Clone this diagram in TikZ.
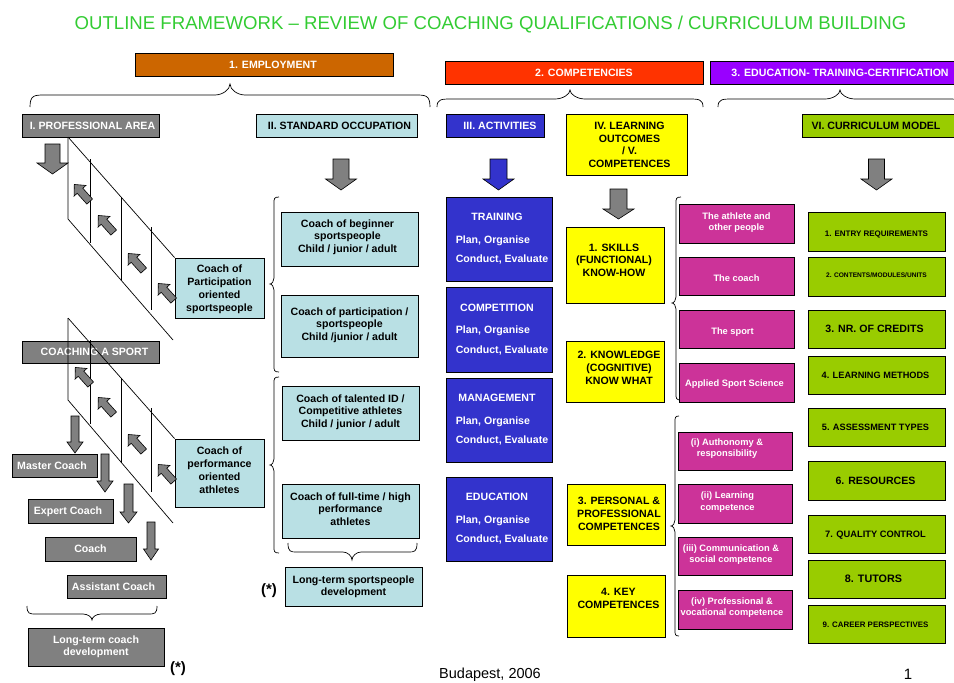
\documentclass[tikz,border=0pt]{standalone}
\usepackage{fontspec}
\setmainfont{Liberation Sans}
\usetikzlibrary{calc}
\definecolor{tgreen}{RGB}{51,204,51}
\definecolor{emp}{RGB}{204,102,0}
\definecolor{comp}{RGB}{255,51,0}
\definecolor{edu}{RGB}{153,0,255}
\definecolor{gbox}{RGB}{128,128,128}
\definecolor{lblue}{RGB}{185,224,228}
\definecolor{actblue}{RGB}{51,51,204}
\definecolor{yel}{RGB}{255,255,0}
\definecolor{mag}{RGB}{204,51,153}
\definecolor{lgreen}{RGB}{153,204,0}
% box: [style]{name}{x1}{y1}{x2}{y2}{dx}{dy}{text}
\newcommand\bx[9][]{%
  \pgfmathsetmacro\bxcx{(#3+#5)/2}%
  \pgfmathsetmacro\bxcy{(#4+#6)/2}%
  \pgfmathsetmacro\bxw{#5-#3}%
  \pgfmathsetmacro\bxh{#6-#4}%
  \node[box,#1,minimum width=\bxw pt,minimum height=\bxh pt] (#2) at (\bxcx,\bxcy)
   {\hspace*{#7pt}\raisebox{\dimexpr#8pt-1.4pt\relax}[\height][\depth]{\begin{tabular}{@{}c@{}}#9\end{tabular}}\hspace*{-\dimexpr#7pt\relax}};}
% block arrow down: [style]{xc}{ytop}{ytip}{shaft half}{head half}{head length}
\newcommand\downarr[7][]{%
  \draw[blockarr,#1] ({#2-#5},#3) -- ({#2+#5},#3) -- ({#2+#5},{#4-#7}) -- ({#2+#6},{#4-#7}) -- (#2,#4) -- ({#2-#6},{#4-#7}) -- ({#2-#5},{#4-#7}) -- cycle;}
% small diagonal arrow
\newcommand\diagarr[2]{%
  \draw[blockarr,shift={(#1,#2)},rotate=132] (-11.5,-3.8) -- (3,-3.8) -- (3,-8) -- (11.5,0) -- (3,8) -- (3,3.8) -- (-11.5,3.8) -- cycle;}
% horizontal brace: xL xR xm yEnd yFlat yTip curl
\newcommand\hbrace[7]{%
  \draw[bracestyle] (#1,#4) .. controls (#1,#5) and ({#1+0.3*#7},#5) .. ({#1+#7},#5) -- ({#3-#7},#5) .. controls ({#3-0.5*#7},#5) and (#3,{0.5*(#5+#6)}) .. (#3,#6) .. controls (#3,{0.5*(#5+#6)}) and ({#3+0.5*#7},#5) .. ({#3+#7},#5) -- ({#2-#7},#5) .. controls ({#2-0.3*#7},#5) and (#2,#5) .. (#2,#4);}
% vertical brace: yTop yBot ym xEnd xFlat xTip curl
\newcommand\vbrace[7]{%
  \draw[bracestyle] (#4,#1) .. controls (#5,#1) and (#5,{#1+0.3*#7}) .. (#5,{#1+#7}) -- (#5,{#3-#7}) .. controls (#5,{#3-0.5*#7}) and ({0.5*(#5+#6)},#3) .. (#6,#3) .. controls ({0.5*(#5+#6)},#3) and (#5,{#3+0.5*#7}) .. (#5,{#3+#7}) -- (#5,{#2-#7}) .. controls (#5,{#2-0.3*#7}) and (#5,#2) .. (#4,#2);}
\newcommand\acttext[1]{\begin{tabular}{@{}l@{}}\multicolumn{1}{@{}c@{}}{\hspace*{-10pt}#1}\\[10pt]Plan, Organise\\[6.4pt]Conduct, Evaluate\end{tabular}}
\begin{document}
\begin{tikzpicture}[x=1pt,y=-1pt,
  box/.style={draw=black, line width=0.8pt, inner sep=0pt, font=\bfseries\fontsize{10.6}{12.8}\selectfont},
  grayb/.style={fill=gbox, text=white},
  lbb/.style={fill=lblue},
  actb/.style={fill=actblue, text=white},
  yelb/.style={fill=yel},
  magb/.style={fill=mag, text=white, font=\bfseries\fontsize{9.3}{11.5}\selectfont},
  grb/.style={fill=lgreen},
  blockarr/.style={fill=gbox, draw=black, line width=0.6pt},
  thinline/.style={line width=0.7pt},
  bracestyle/.style={line width=0.7pt}]
\useasboundingbox (0,0) rectangle (954,683);
\fill[white] (0,0) rectangle (954,683);

% title
\node[anchor=base, inner sep=0pt, text=tgreen, font=\fontsize{18.6}{21}\selectfont] (title) at (490.5,29) {OUTLINE FRAMEWORK – REVIEW OF COACHING QUALIFICATIONS / CURRICULUM BUILDING};

% top headers
\bx[fill=emp,text=white]{employ}{135}{53}{393}{76}{9}{0}{1. EMPLOYMENT}
\bx[fill=comp,text=white]{compet}{445}{61}{703}{84}{10}{0}{2. COMPETENCIES}
\bx[fill=edu,text=white]{educ}{710}{61}{970}{84}{0}{0}{3. EDUCATION- TRAINING-CERTIFICATION}

% braces top
\hbrace{30}{430}{230}{107}{95}{84}{15}
\hbrace{437}{703}{570}{107}{99}{90}{15}
\hbrace{718}{962}{840}{107}{99}{90}{15}

% second row headers
\bx[grayb]{profarea}{22}{114}{159}{137}{2}{0}{I. PROFESSIONAL AREA}
\bx[lbb]{stdocc}{256}{114}{417}{137}{3}{0}{II. STANDARD OCCUPATION}
\bx[actb]{activ}{446}{114}{544}{137}{5}{0}{III. ACTIVITIES}
\bx[yelb]{learnout}{566}{114}{687}{175}{3}{0}{IV. LEARNING\\OUTCOMES\\/ V.\\COMPETENCES}
\bx[grb]{currmod}{802}{114}{962}{137}{-6}{0}{VI. CURRICULUM MODEL}

% big down arrows
\downarr{52.5}{144}{174}{7.5}{15.5}{11}
\downarr{341}{159}{190}{8}{15.5}{11}
\downarr[fill=actblue]{498.5}{159}{190}{8.5}{15.5}{11}
\downarr{618.5}{189}{219}{8.5}{15.5}{10}
\downarr{876.5}{159}{190}{8}{15.5}{11}

% professional area column
\bx[lbb]{partic}{175}{258}{264}{318}{0}{0}{Coach of\\Participation\\oriented\\sportspeople}
\bx[grayb]{coaching}{22}{341}{159}{363}{4}{0}{COACHING A SPORT}
\bx[lbb]{perf}{175}{439}{264}{507}{0}{3}{Coach of\\performance\\oriented\\athletes}

\bx[grayb]{master}{12}{454}{97}{477}{-2.5}{0}{Master Coach}
\bx[grayb]{expert}{28}{499}{113}{523}{-2.5}{0}{Expert Coach}
\bx[grayb]{coach}{45}{537}{136}{561}{0}{0}{Coach}
\bx[grayb]{assist}{67}{575}{166}{598}{-3}{0}{Assistant Coach}
\bx[grayb]{ltcoach}{28}{628}{164}{666}{0}{1.5}{Long-term coach\\development}
\hbrace{27}{157}{92}{606}{614}{620}{9}
\node[font=\bfseries\fontsize{15}{18}\selectfont, inner sep=0pt] (star1) at (178,669) {(*)};

% staircases
\draw[thinline] (68,137) -- (partic.north west);
\draw[thinline] (68,137) -- (68,219) -- (173,340);
\draw[thinline] (90,159) -- (90,243);
\draw[thinline] (121,197) -- (121,280);
\draw[thinline] (151,227) -- (151,310);
\draw[thinline] (68,318) -- (perf.north west);
\draw[thinline] (68,318) -- (68,400) -- (173,523);
\draw[thinline] (90,340) -- (90,424);
\draw[thinline] (121,378) -- (121,463);
\draw[thinline] (151,408) -- (151,492);

\diagarr{82}{193}
\diagarr{106}{224}
\diagarr{136}{262}
\diagarr{166}{292}
\diagarr{83}{376}
\diagarr{106}{406}
\diagarr{136}{443}
\diagarr{166}{473}

% ladder arrows
\downarr{75}{416}{453}{4}{8}{11}
\downarr{105}{454}{492}{4}{8}{11}
\downarr{128.5}{484}{523}{4.5}{8.5}{11}
\downarr{151}{522}{560}{4}{7.5}{11}

% standard occupation column
\vbrace{197}{372}{284}{279}{274}{270}{6}
\vbrace{377}{553}{465}{279}{274}{270}{6}
\bx[lbb]{beginner}{281}{212}{418}{266}{-2}{3}{Coach of beginner\\sportspeople\\Child / junior / adult}
\bx[lbb]{partsp}{281}{295}{418}{357}{0}{2}{Coach of participation /\\sportspeople\\Child /junior / adult}
\bx[lbb]{talented}{282}{386}{419}{440}{0}{2}{Coach of talented ID /\\Competitive athletes\\Child / junior / adult}
\bx[lbb]{fulltime}{282}{484}{419}{538}{0}{2}{Coach of full-time / high\\performance\\athletes}
\hbrace{288}{417}{352}{543}{552}{560}{9}
\bx[lbb]{ltsport}{285}{567}{422}{606}{0}{1}{Long-term sportspeople\\development}
\node[font=\bfseries\fontsize{15}{18}\selectfont, inner sep=0pt] (star2) at (269,591) {(*)};

% activities
\bx[actb]{training}{446}{197}{552}{281}{3}{1.4}{\acttext{TRAINING}}
\bx[actb]{competition}{446}{287}{552}{372}{3}{1.4}{\acttext{COMPETITION}}
\bx[actb]{management}{446}{378}{552}{462}{3}{1.4}{\acttext{MANAGEMENT}}
\bx[actb]{education}{446}{477}{552}{561}{3}{1.4}{\acttext{EDUCATION}}

% learning outcomes
\bx[yelb]{skills}{566}{227}{664}{303}{-1}{5}{1. SKILLS\\(FUNCTIONAL)\\KNOW-HOW}
\bx[yelb]{knowl}{566}{341}{664}{402}{4}{4}{2. KNOWLEDGE\\(COGNITIVE)\\KNOW WHAT}
\bx[yelb]{personal}{567}{484}{665}{545}{3}{1}{3. PERSONAL \&\\PROFESSIONAL\\COMPETENCES}
\bx[yelb]{key}{567}{575}{665}{637}{2.5}{8}{4. KEY\\COMPETENCES}

\vbrace{197}{400}{303}{681}{676}{672}{6}
\vbrace{416}{636}{526}{679}{675}{671}{6}

\bx[magb]{athlete}{679}{204}{794}{243}{0}{2}{The athlete and\\other people}
\bx[magb]{coachm}{679}{257}{794}{295}{0}{-2}{The coach}
\bx[magb]{sport}{679}{310}{794}{348}{-4}{-2}{The sport}
\bx[magb]{applied}{679}{363}{794}{402}{-2}{0}{Applied Sport Science}
\bx[magb]{auton}{678}{432}{792}{470}{-8}{3.5}{(i) Authonomy \&\\responsibility}
\bx[magb]{learnc}{678}{484}{792}{523}{-7.5}{2.5}{(ii) Learning\\competence}
\bx[magb]{commun}{678}{537}{792}{575}{-4}{2.5}{(iii) Communication \&\\social competence}
\bx[magb]{profv}{678}{590}{792}{629}{-3}{3}{(iv) Professional \&\\vocational competence}

% curriculum model
\bx[grb,font=\bfseries\fontsize{8}{9}\selectfont]{entry}{808}{212}{945}{251}{0}{-1.5}{1. ENTRY REQUIREMENTS}
\bx[grb,font=\bfseries\fontsize{6.6}{8}\selectfont]{contents}{808}{257}{945}{296}{0}{2.5}{2. CONTENTS/MODULES/UNITS}
\bx[grb]{credits}{808}{310}{945}{348}{-2}{0}{3. NR. OF CREDITS}
\bx[grb,font=\bfseries\fontsize{9.2}{11}\selectfont]{methods}{808}{356}{945}{394}{-1}{0}{4. LEARNING METHODS}
\bx[grb,font=\bfseries\fontsize{9.2}{11}\selectfont]{assess}{808}{408}{945}{446}{-1}{0}{5. ASSESSMENT TYPES}
\bx[grb]{resources}{808}{461}{945}{500}{-1}{0}{6. RESOURCES}
\bx[grb,font=\bfseries\fontsize{9.3}{11}\selectfont]{quality}{808}{515}{945}{553}{-1}{0}{7. QUALITY CONTROL}
\bx[grb,font=\bfseries\fontsize{10.8}{12}\selectfont]{tutors}{808}{560}{945}{598}{-3}{0}{8. TUTORS}
\bx[grb,font=\bfseries\fontsize{7.9}{9}\selectfont]{career}{808}{605}{945}{643}{-1}{0}{9. CAREER PERSPECTIVES}

% footer
\node[anchor=base, inner sep=0pt, font=\fontsize{14.5}{17}\selectfont] (budapest) at (490,678.5) {Budapest, 2006};
\node[anchor=base, inner sep=0pt, font=\fontsize{15}{17}\selectfont] (pnum) at (908,679) {1};
\end{tikzpicture}
\end{document}
